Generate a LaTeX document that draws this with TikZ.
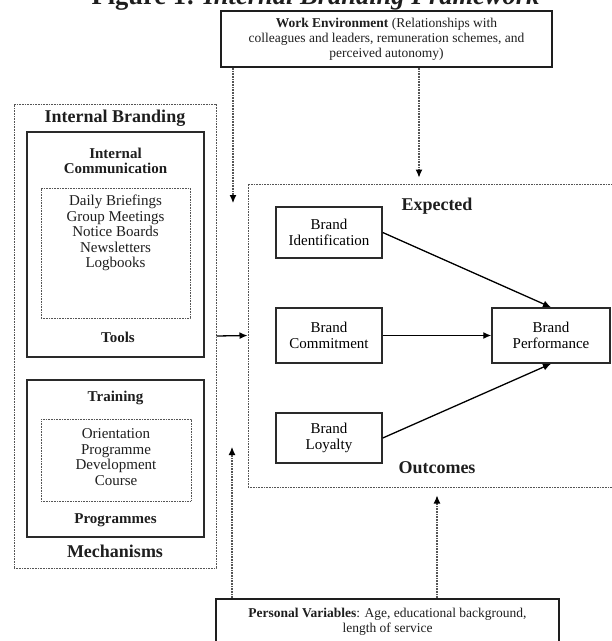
\documentclass[tikz,border=0pt]{standalone}
\usepackage{fontspec}
\setmainfont{Liberation Serif}
\usepackage{xcolor}
\usetikzlibrary{arrows.meta}
\definecolor{linegray}{HTML}{2A2A2A}
\definecolor{dotgray}{HTML}{555555}
\definecolor{textgray}{HTML}{1E1E1E}

\begin{document}
\begin{tikzpicture}[x=1pt, y=-1pt,
    box/.style={draw=linegray, line width=1.5pt, inner sep=0pt},
    dotbox/.style={draw=dotgray, line width=1pt, dash pattern=on 1pt off 0.6pt, inner sep=0pt},
    brandbox/.style={box, minimum width=106pt, minimum height=53pt, align=center, font=\fontsize{15}{15.5}\selectfont},
    bighead/.style={textgray, font=\bfseries\fontsize{18}{20}\selectfont},
    head/.style={textgray, align=center, font=\bfseries\fontsize{15}{15.5}\selectfont},
    body/.style={textgray, align=center, font=\fontsize{15}{15.5}\selectfont},
    arrow/.style={draw=black, line width=1.3pt, -{Latex[length=8pt, width=7pt]}},
    dotarrow/.style={draw=dotgray, line width=1.1pt, dash pattern=on 1pt off 0.6pt, -{Latex[length=8pt, width=7pt, color=black]}}
]
  \useasboundingbox (0,0) rectangle (612,641);
  \clip (0,0) rectangle (612,641);

  % Titel (oben abgeschnitten)
  \node[textgray, anchor=base, font=\bfseries\fontsize{26.5}{28}\selectfont] (title) at (315.5,4) {Figure 1: \textit{Internal Branding Framework}};

  % Arbeitsumfeld
  \node[box, minimum width=331pt, minimum height=56pt, align=center, textgray, font=\fontsize{13.5}{15}\selectfont] (work) at (386.5,39)
    {\textbf{Work Environment} (Relationships with\\colleagues and leaders, remuneration schemes, and\\perceived autonomy)};

  % Internal Branding (linker Block)
  \node[dotbox, minimum width=202pt, minimum height=464pt] (branding) at (115,336) {};
  \node[bighead] (brandingtitle) at (115,118) {Internal Branding};

  % Internal Communication
  \node[box, minimum width=177pt, minimum height=225pt] (comm) at (115.5,244.5) {};
  \node[head] (commtitle) at (115.5,161) {Internal\\Communication};
  \node[dotbox, minimum width=149pt, minimum height=130pt] (commlist) at (115.5,253) {};
  \node[body] (commitems) at (115.5,233) {Daily Briefings\\Group Meetings\\Notice Boards\\Newsletters\\Logbooks};
  \node[head] (tools) at (118,337) {Tools};

  % Training
  \node[box, minimum width=177pt, minimum height=157pt] (training) at (115.5,458.5) {};
  \node[head] (trainingtitle) at (115.5,398) {Training};
  \node[dotbox, minimum width=150pt, minimum height=82pt] (trainlist) at (116,460) {};
  \node[body] (trainitems) at (116,457) {Orientation\\Programme\\Development\\Course};
  \node[head] (programmes) at (115.5,520) {Programmes};
  \node[bighead] (mechanisms) at (115,551) {Mechanisms};

  % Ergebnisse (rechter Block)
  \node[dotbox, minimum width=400pt, minimum height=303pt] (outcomes) at (448,335.5) {};
  \node[bighead] (expected) at (437,206) {Expected};
  \node[bighead] (outcomestitle) at (437,468) {Outcomes};

  \node[brandbox, minimum height=51pt] (ident) at (329,232.5) {Brand\\Identification};
  \node[brandbox, minimum height=55pt] (commit) at (329,335.5) {Brand\\Commitment};
  \node[brandbox, minimum height=50pt] (loyal) at (329,438) {Brand\\Loyalty};
  \node[brandbox, minimum width=118pt, minimum height=55pt] (perf) at (551,335.5) {Brand\\Performance};

  % Pfeile
  \draw[arrow] (branding.east) -- (outcomes.west);
  \draw[arrow] (ident.east) -- (perf.north);
  \draw[arrow] (commit.east) -- (perf.west);
  \draw[arrow] (loyal.east) -- (perf.south);

  % Persönliche Variablen
  \node[box, minimum width=343pt, minimum height=46pt, align=center, textgray, font=\fontsize{13.5}{15}\selectfont] (personal) at (387.5,622)
    {\textbf{Personal Variables}: Age, educational background,\\length of service};

  % gepunktete Einflüsse
  \coordinate (worktip) at (233,203);
  \coordinate (personaltip) at (232,447);
  \draw[dotarrow] (work.south -| worktip) -- (worktip);
  \draw[dotarrow, shorten >=6pt] ([xshift=32.5pt]work.south) -- ([xshift=32.5pt]work.south |- outcomes.north);
  \draw[dotarrow] (personal.north -| personaltip) -- (personaltip);
  \draw[dotarrow, shorten >=8pt] ([xshift=49.5pt]personal.north) -- ([xshift=49.5pt]personal.north |- outcomes.south);

\end{tikzpicture}
\end{document}
